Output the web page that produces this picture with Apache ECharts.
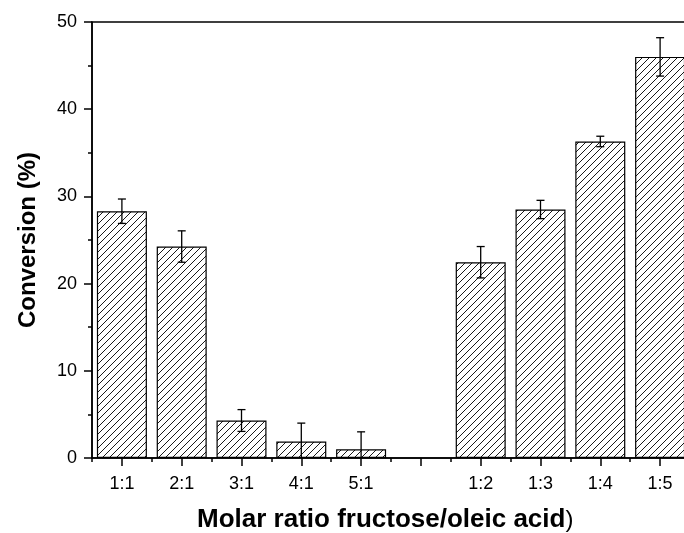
<!DOCTYPE html>
<html>
<head>
<meta charset="utf-8">
<script src="https://cdn.jsdelivr.net/npm/echarts@6/dist/echarts.min.js"></script>
<style>html,body{margin:0;padding:0;background:#fff;overflow:hidden}#c{width:696px;height:533px}</style>
</head>
<body>
<div id="c"></div>
<script>
var categories = ['1:1','2:1','3:1','4:1','5:1','','1:2','1:3','1:4','1:5'];
var conversion = [28.3, 24.25, 4.3, 1.9, 1.0, null, 22.45, 28.5, 36.3, 46.0];
var errorBars = [1.4, 1.8, 1.25, 2.1, 2.0, null, 1.8, 1.05, 0.6, 2.2];
var yTicks = [0, 10, 20, 30, 40, 50];

function hatch() {
  var s = 7, c = document.createElement('canvas');
  c.width = s; c.height = s;
  var g = c.getContext('2d');
  g.fillStyle = '#fff'; g.fillRect(0, 0, s, s);
  g.strokeStyle = '#000'; g.lineWidth = 0.9;
  g.beginPath();
  g.moveTo(-1, s + 1); g.lineTo(s + 1, -1);
  g.moveTo(-1, 1); g.lineTo(1, -1);
  g.moveTo(s - 1, s + 1); g.lineTo(s + 1, s - 1);
  g.stroke();
  return c;
}

var errData = [];
conversion.forEach(function (v, i) {
  if (v != null) errData.push([i, v - errorBars[i], v + errorBars[i]]);
});

var chart = echarts.init(document.getElementById('c'), null, {renderer: 'canvas'});
var font = '"Liberation Sans", Arial, sans-serif';
chart.setOption({
  backgroundColor: '#fff',
  animation: false,
  grid: {left: 92, right: 6, top: 22, bottom: 75, show: true, borderColor: '#000', borderWidth: 1.5, backgroundColor: 'transparent'},
  xAxis: [{
    type: 'category', data: categories,
    axisLine: {show: true, lineStyle: {color: '#000', width: 1.5}},
    axisTick: {show: true, interval: 0, alignWithLabel: true, inside: false, length: 8, lineStyle: {color: '#000', width: 1.5}},
    axisLabel: {show: true, interval: 0, color: '#000', fontSize: 18, fontFamily: font, margin: 17},
    splitLine: {show: false}
  }, {
    type: 'category', data: categories, position: 'bottom',
    axisLine: {show: false},
    axisTick: {show: true, interval: 0, inside: false, length: 4, lineStyle: {color: '#000', width: 1.5}},
    axisLabel: {show: false},
    splitLine: {show: false}
  }],
  yAxis: {
    type: 'value', min: yTicks[0], max: yTicks[yTicks.length - 1], interval: 10,
    name: 'Conversion (%)', nameLocation: 'middle', nameGap: 52,
    nameTextStyle: {color: '#000', fontSize: 24, fontWeight: 'bold', fontFamily: font},
    axisLine: {show: true, lineStyle: {color: '#000', width: 1.5}},
    axisTick: {show: true, length: 8, lineStyle: {color: '#000', width: 1.5}},
    minorTick: {show: true, splitNumber: 2, length: 4, lineStyle: {color: '#000', width: 1.5}},
    axisLabel: {color: '#000', fontSize: 18, fontFamily: font, margin: 15},
    splitLine: {show: false}
  },
  graphic: [{
    type: 'text', left: 197, top: 507,
    style: {
      text: '{b|Molar ratio fructose/oleic acid}{n|)}',
      rich: {
        b: {fontSize: 26, fontWeight: 'bold', fontFamily: font, fill: '#000'},
        n: {fontSize: 24, fontFamily: font, fill: '#000'}
      }
    }
  }],
  series: [{
    type: 'bar', data: conversion, barWidth: 50,
    itemStyle: {color: {image: hatch(), repeat: 'repeat'}, borderColor: '#000', borderWidth: 1.2}
  }, {
    type: 'custom', data: errData, clip: true, z: 5,
    renderItem: function (params, api) {
      var x = api.value(0);
      var lo = api.coord([x, api.value(1)]);
      var hi = api.coord([x, api.value(2)]);
      var w = 4;
      var st = {stroke: '#000', lineWidth: 1.3};
      return {type: 'group', children: [
        {type: 'line', shape: {x1: lo[0], y1: lo[1], x2: hi[0], y2: hi[1]}, style: st},
        {type: 'line', shape: {x1: lo[0] - w, y1: lo[1], x2: lo[0] + w, y2: lo[1]}, style: st},
        {type: 'line', shape: {x1: hi[0] - w, y1: hi[1], x2: hi[0] + w, y2: hi[1]}, style: st}
      ]};
    }
  }]
});
</script>
</body>
</html>
